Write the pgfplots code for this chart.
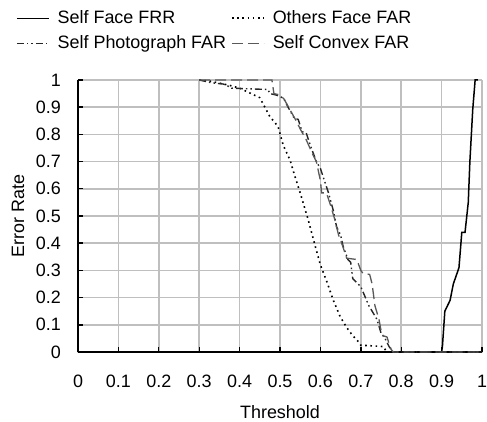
\documentclass[border=0pt]{standalone}
\usepackage{fontspec}
\setmainfont{Liberation Sans}
\usepackage{pgfplots}
\pgfplotsset{compat=1.18}
\newcommand{\myfont}{\fontsize{18}{21}\selectfont}
\begin{document}
\begin{tikzpicture}
\begin{axis}[
  scale only axis, width=404bp, height=272bp,
  xmin=0, xmax=1, ymin=0, ymax=1,
  axis lines=left, axis line style={-, line width=1.4bp, black},
  grid=major, grid style={line width=1.5bp, black!25},
  xtick={0,0.1,0.2,0.3,0.4,0.5,0.6,0.7,0.8,0.9,1},
  ytick={0,0.1,0.2,0.3,0.4,0.5,0.6,0.7,0.8,0.9,1},
  xticklabels={0,0.1,0.2,0.3,0.4,0.5,0.6,0.7,0.8,0.9,1},
  yticklabels={0,0.1,0.2,0.3,0.4,0.5,0.6,0.7,0.8,0.9,1},
  tick align=inside, major tick length=5bp, tick style={line width=1.4bp, black},
  font=\myfont,
  xticklabel style={anchor=north, inner sep=0pt, yshift=-23bp},
  yticklabel style={anchor=east, inner sep=0pt, xshift=-17bp},
  xlabel={Threshold}, ylabel={Error Rate},
  xlabel style={at={(axis description cs:0.5,-0.2206)}, anchor=center},
  ylabel style={at={(axis description cs:-0.1485,0.5)}, anchor=center},
  clip=false,
  legend columns=2,
  legend cell align=left,
  legend image code/.code={\draw[#1] (0bp,0bp) -- (32bp,0bp);},
  legend style={at={(-0.1535,1.257)}, anchor=north west, draw=none, fill=none,
    inner sep=0pt, font=\myfont, row sep=9bp,
    nodes={inner sep=0pt, text height=13bp, text depth=3bp},
    /tikz/every odd column/.append style={column sep=8bp},
    /tikz/every even column/.append style={column sep=5bp}},
]
% Self Face FRR
\addplot[black, line width=1.5bp] coordinates {
(0,0) (0.9,0) (0.902,0.02) (0.908,0.15) (0.921,0.19) (0.929,0.25) (0.943,0.31)
(0.95,0.44) (0.958,0.44) (0.966,0.55) (0.97,0.70) (0.977,0.89) (0.983,1) (0.99,1)};
\addlegendentry{Self Face FRR}
% Others Face FAR
\addplot[black, line width=1.6bp, dash pattern=on 1.6bp off 3.6bp] coordinates {
(0.30,1) (0.33,0.995) (0.376,0.98) (0.40,0.97) (0.45,0.935) (0.475,0.865) (0.495,0.83)
(0.508,0.76) (0.525,0.705) (0.537,0.645) (0.55,0.585) (0.57,0.485) (0.587,0.39)
(0.60,0.32) (0.616,0.258) (0.632,0.19) (0.649,0.13) (0.665,0.09) (0.68,0.06)
(0.694,0.038) (0.70,0.025) (0.756,0.02) (0.764,0) (1,0)};
\addlegendentry{Others Face FAR}
% Self Photograph FAR
\addplot[black!85, line width=1.4bp, dash pattern=on 7bp off 3bp on 1.5bp off 3bp on 1.5bp off 3bp] coordinates {
(0.30,1) (0.33,0.99) (0.36,0.985) (0.375,0.975) (0.38,0.97) (0.47,0.965) (0.475,0.95)
(0.49,0.945) (0.50,0.94) (0.51,0.93) (0.52,0.90) (0.535,0.86) (0.545,0.855) (0.555,0.81)
(0.565,0.805) (0.575,0.76) (0.585,0.72) (0.59,0.70) (0.60,0.675) (0.61,0.63) (0.62,0.585)
(0.632,0.52) (0.64,0.46) (0.65,0.43) (0.656,0.39) (0.668,0.34) (0.675,0.33) (0.68,0.27)
(0.70,0.24) (0.72,0.17) (0.74,0.12) (0.75,0.07) (0.76,0.05) (0.77,0.02) (0.78,0) (1,0)};
\addlegendentry{Self Photograph FAR}
% Self Convex FAR
\addplot[black!65, line width=1.3bp, dash pattern=on 11bp off 5bp] coordinates {
(0.30,1) (0.48,1) (0.485,0.95) (0.50,0.945) (0.51,0.93) (0.525,0.89) (0.54,0.85)
(0.55,0.82) (0.565,0.78) (0.58,0.73) (0.59,0.70) (0.60,0.63) (0.603,0.585) (0.615,0.585)
(0.625,0.54) (0.635,0.49) (0.645,0.43) (0.655,0.39) (0.665,0.345) (0.69,0.34) (0.70,0.30)
(0.705,0.29) (0.722,0.285) (0.728,0.25) (0.735,0.17) (0.745,0.12) (0.75,0.08) (0.755,0.06)
(0.765,0.055) (0.77,0.03) (0.775,0.01) (0.78,0) (1,0)};
\addlegendentry{Self Convex FAR}
\end{axis}
\pgfresetboundingbox
\path[use as bounding box] ([shift={(-78bp,-70bp)}]current axis.south west) rectangle ([shift={(5bp,80bp)}]current axis.north east);
\end{tikzpicture}
\end{document}
